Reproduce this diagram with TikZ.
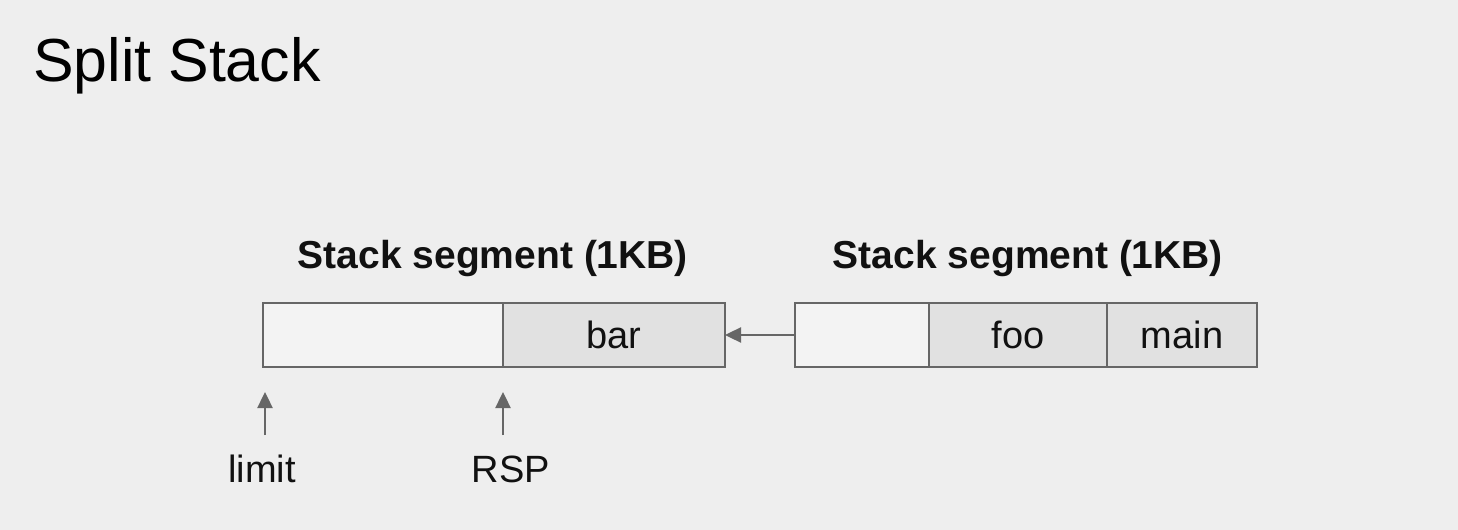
\documentclass[tikz,border=0pt]{standalone}
\usepackage{fontspec}
\setmainfont{Liberation Sans}
\usetikzlibrary{arrows.meta}
\definecolor{bg}{HTML}{EEEEEE}
\definecolor{emptycell}{HTML}{F3F3F3}
\definecolor{fullcell}{HTML}{E1E1E1}
\definecolor{edge}{HTML}{666666}
\definecolor{ink}{HTML}{111111}
\begin{document}
\begin{tikzpicture}[x=0.5pt,y=-0.5pt,
  cell/.style={draw=edge, line width=1.1pt, anchor=north west, inner sep=0pt, outer sep=0pt,
    minimum height=32pt, font=\fontsize{19}{22}\selectfont, text=ink},
  empty/.style={cell, fill=emptycell},
  full/.style={cell, fill=fullcell},
  segtitle/.style={anchor=base, font=\fontsize{19.5}{23}\selectfont\bfseries, text=ink},
  ptrlabel/.style={anchor=base, font=\fontsize{19}{22}\selectfont, text=ink},
  ptr/.style={draw=edge, line width=1.2pt, -{Triangle[length=8pt,width=7.5pt]}}
]
\fill[bg] (0,0) rectangle (1458,530);
\useasboundingbox (0,0) rectangle (1458,530);

\node[anchor=base west, font=\fontsize{30.4}{36}\selectfont, text=black, inner sep=0pt] (title) at (33,81) {Split Stack};

% left segment
\node[empty, minimum width=120pt] (free1) at (263,303) {};
\node[full, minimum width=111pt] (bar) at (503,303) {bar};
\node[segtitle] (t1) at (493,268) {Stack segment (1KB)};

% right segment
\node[empty, minimum width=67pt] (free2) at (795,303) {};
\node[full, minimum width=89pt] (foo) at (929,303) {foo};
\node[full, minimum width=75pt] (main) at (1107,303) {main};
\node[segtitle] (t2) at (1028,268) {Stack segment (1KB)};

\draw[ptr] (free2.west) -- (bar.east);

% pointers
\coordinate (limitbase) at (265,435);
\coordinate (limittip) at (265,392);
\coordinate (rspbase) at (503,435);
\coordinate (rsptip) at (503,392);
\draw[ptr] (limitbase) -- (limittip);
\draw[ptr] (rspbase) -- (rsptip);
\node[ptrlabel] (limit) at (262,482) {limit};
\node[ptrlabel] (rsp) at (511,482) {RSP};
\end{tikzpicture}
\end{document}
